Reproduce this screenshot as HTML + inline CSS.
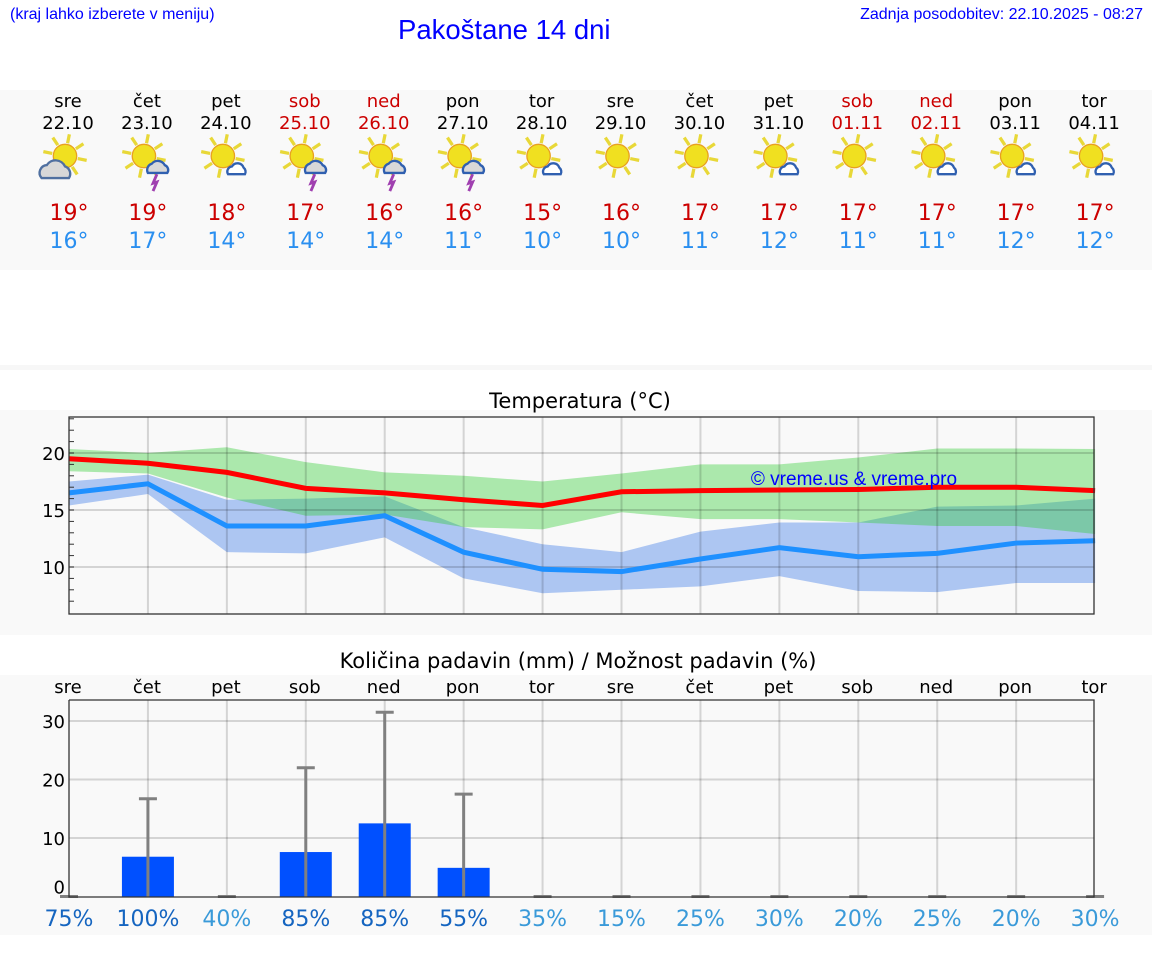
<!DOCTYPE html>
<html><head><meta charset="utf-8"><style>
body{margin:0;width:1152px;height:975px;background:#fff;font-family:"DejaVu Sans","Liberation Sans",sans-serif;position:relative;overflow:hidden}
.abs{position:absolute}
</style></head><body>
<div class="abs" style="left:10px;top:6px;font:16px 'Liberation Sans',sans-serif;color:#00f">(kraj lahko izberete v meniju)</div>
<div class="abs" style="left:398px;top:14px;font:27.5px 'Liberation Sans',sans-serif;color:#00f">Pakoštane 14 dni</div>
<div class="abs" style="right:9px;top:6px;font:16px 'Liberation Sans',sans-serif;color:#00f">Zadnja posodobitev: 22.10.2025 - 08:27</div>
<div class="abs" style="left:0;top:90px;width:1152px;height:180px;background:#f9f9f9"></div>
<div class="abs" style="left:0;top:365px;width:1152px;height:5px;background:#f7f7f7"></div>
<div class="abs" style="left:0;top:410px;width:1152px;height:225px;background:#f9f9f9"></div>
<div class="abs" style="left:0;top:675px;width:1152px;height:260px;background:#f9f9f9"></div>
<svg class="abs" style="left:0;top:0" width="1152" height="975" id="svg"></svg>
<script>
const days=["sre","čet","pet","sob","ned","pon","tor","sre","čet","pet","sob","ned","pon","tor"];
const dates=["22.10","23.10","24.10","25.10","26.10","27.10","28.10","29.10","30.10","31.10","01.11","02.11","03.11","04.11"];
const weekend=[0,0,0,1,1,0,0,0,0,0,1,1,0,0];
const icons=["cloud","storm","small","storm","storm","storm","small","sun","sun","small","sun","small","small","small"];
const hiT=[19,19,18,17,16,16,15,16,17,17,17,17,17,17];
const loT=[16,17,14,14,14,11,10,10,11,12,11,11,12,12];
const maxLine=[19.5,19.1,18.3,16.9,16.5,15.9,15.4,16.6,16.7,16.75,16.8,17.0,17.0,16.7];
const maxUp=[20.35,20.0,20.5,19.2,18.3,18.0,17.5,18.2,19.0,19.0,19.6,20.4,20.4,20.35];
const maxLo=[18.4,18.2,16.1,14.5,14.6,13.5,13.3,14.8,14.2,14.2,13.9,13.6,13.6,12.9];
const minLine=[16.5,17.3,13.6,13.6,14.5,11.3,9.8,9.6,10.7,11.7,10.9,11.2,12.1,12.3];
const minUp=[17.5,18.1,15.9,16.0,16.2,13.5,12.0,11.3,13.1,13.9,13.9,15.3,15.4,16.0];
const minLo=[15.4,16.4,11.3,11.2,12.6,9.0,7.7,8.0,8.3,9.2,7.9,7.8,8.6,8.6];
const precip=[0,6.8,0,7.6,12.5,4.9,0,0,0,0,0,0,0,0];
const precipMax=[0,16.7,0,22,31.5,17.5,0,0,0,0,0,0,0,0];
const chance=[75,100,40,85,85,55,35,15,25,30,20,25,20,30];
const tTicks=[10,15,20];
const pTicks=[0,10,20,30];

const NS="http://www.w3.org/2000/svg",svg=document.getElementById('svg');
function el(t,a,p){const e=document.createElementNS(NS,t);for(const k in a)e.setAttribute(k,a[k]);(p||svg).appendChild(e);return e;}
function txt(x,y,s,size,fill,anchor){const e=el('text',{x:x,y:y,'font-size':size,fill:fill,'text-anchor':anchor||'middle','font-family':'DejaVu Sans, Liberation Sans, sans-serif'});e.textContent=s;return e;}
const X=i=>69+i*78.93;
const L=69,R=1094;
// Header
days.forEach((d,i)=>{
 const c=weekend[i]?'#c00':'#000';
 let e=txt(X(i)-1,107,d,18,c);
 
 
 e=txt(X(i)-1,129,dates[i],18,c);
 
 
 const g=el('g',{transform:`translate(${X(i)-4},156) scale(1.3)`});
 
 
 for(let k=0;k<8;k++){const a=k*Math.PI/4+0.2;el('line',{x1:Math.cos(a)*10,y1:Math.sin(a)*10,x2:Math.cos(a)*17,y2:Math.sin(a)*17,stroke:'#e8d838','stroke-width':2.5},g);}
 el('circle',{cx:0,cy:0,r:9,fill:'#f0e020',stroke:'#e8a020','stroke-width':1},g);
 if(icons[i]=='cloud'){el('path',{d:'M-18,17 a6,6 0 0 1 4,-10 a8,8 0 0 1 14,1 a6,6 0 0 1 3,9 z',fill:'#d8d8d8',stroke:'#5070a0','stroke-width':1.8},g);}
 if(icons[i]=='storm'){el('path',{d:'M10,14 l-3,7 l3,-1 l-3,7',fill:'none',stroke:'#a040b0','stroke-width':2.2},g);
   el('path',{d:'M3,13 a5,5 0 0 1 3,-7 a6,6 0 0 1 10,1 a4,4 0 0 1 2,6 z',fill:'#d8d8d8',stroke:'#3060b0','stroke-width':1.8},g);}
 if(icons[i]=='small'){el('path',{d:'M4,14 a4,4 0 0 1 3,-6 a5,5 0 0 1 9,1 a4,4 0 0 1 1,5 z',fill:'#fff',stroke:'#3060b0','stroke-width':1.8},g);}
 e=txt(X(i),220,hiT[i]+'°',22,'#c00');
 
 
 e=txt(X(i),248,loT[i]+'°',22,'#2a8ff0');
 
 
});
// Temperature chart
const tT=417,tB=614;const yT=v=>453-(v-20)*11.4;
let e=txt(580,408,'Temperatura (°C)',21,'#000');


el('rect',{x:L,y:tT,width:R-L,height:tB-tT,fill:'#f9f9f9'});
function band(up,lo,fill,op,name){let d='';up.forEach((v,i)=>d+=(i?'L':'M')+X(i)+','+yT(v));for(let i=lo.length-1;i>=0;i--)d+='L'+X(i)+','+yT(lo[i]);const p=el('path',{d:d+'Z',fill:fill,'fill-opacity':op});}
band(minUp,minLo,'#adc6f2',1,'min-temp-range');
band(maxUp,maxLo,'rgb(43,205,46)',0.377,'max-temp-range');
for(let i=1;i<13;i++)el('line',{x1:X(i),x2:X(i),y1:tT,y2:tB,stroke:'rgba(0,0,0,0.15)','stroke-width':2});
tTicks.forEach(v=>{el('line',{x1:L,x2:R,y1:yT(v),y2:yT(v),stroke:'rgba(0,0,0,0.15)','stroke-width':2});const t=txt(L-4,yT(v)+7,String(v),18,'#000','end');});
for(let v=7;v<=23;v++)el('line',{x1:L,x2:L+5,y1:yT(v),y2:yT(v),stroke:'#333','stroke-width':1});
function line(vals,c,name){const p=el('polyline',{points:vals.map((v,i)=>X(i)+','+yT(v)).join(' '),fill:'none',stroke:c,'stroke-width':5});}
line(minLine,'#1e90ff','min-temp-line');
line(maxLine,'#ff0000','max-temp-line');
e=txt(854,485,'© vreme.us & vreme.pro',19,'#00f');


e.setAttribute('font-family','Liberation Sans, sans-serif');
el('rect',{x:L,y:tT,width:R-L,height:tB-tT,fill:'none',stroke:'#333','stroke-width':1.3});
// Precip chart
const pT=700,pB=897;const yP=v=>896.5-v*5.85;
e=txt(578,668,'Količina padavin (mm) / Možnost padavin (%)',21,'#000');


days.forEach((d,i)=>{const t=txt(X(i)-1,693,d,18,'#000');});
el('rect',{x:L,y:pT,width:R-L,height:pB-pT,fill:'#f9f9f9'});
for(let i=1;i<13;i++)el('line',{x1:X(i),x2:X(i),y1:pT,y2:pB,stroke:'rgba(0,0,0,0.15)','stroke-width':2});
pTicks.forEach(v=>{if(v>0)el('line',{x1:L,x2:R,y1:yP(v),y2:yP(v),stroke:'rgba(0,0,0,0.15)','stroke-width':2});const t=txt(L-4,yP(v)+7-(v==0?10:0),String(v),18,'#000','end');});
precip.forEach((v,i)=>{
 if(v>0){
 const b=el('rect',{x:X(i)-26,y:yP(v),width:52,height:pB-yP(v),fill:'#0050ff'});
 
 
 }
 const m=precipMax[i];
 el('line',{x1:X(i),x2:X(i),y1:yP(m),y2:pB,stroke:'#808080','stroke-width':3});
 el('line',{x1:X(i)-9,x2:X(i)+9,y1:yP(m),y2:yP(m),stroke:'#808080','stroke-width':3});
 const c=chance[i]>=50?'#1565c0':'#3a9ad9';
 const t=txt(X(i),926,chance[i]+'%',22,c);
 
 
});
el('polyline',{points:`${L},${pT} ${R},${pT} ${R},${pB} ${L},${pB} ${L},${pT}`,fill:'none',stroke:'#333','stroke-width':1.3});
</script>
</body></html>
